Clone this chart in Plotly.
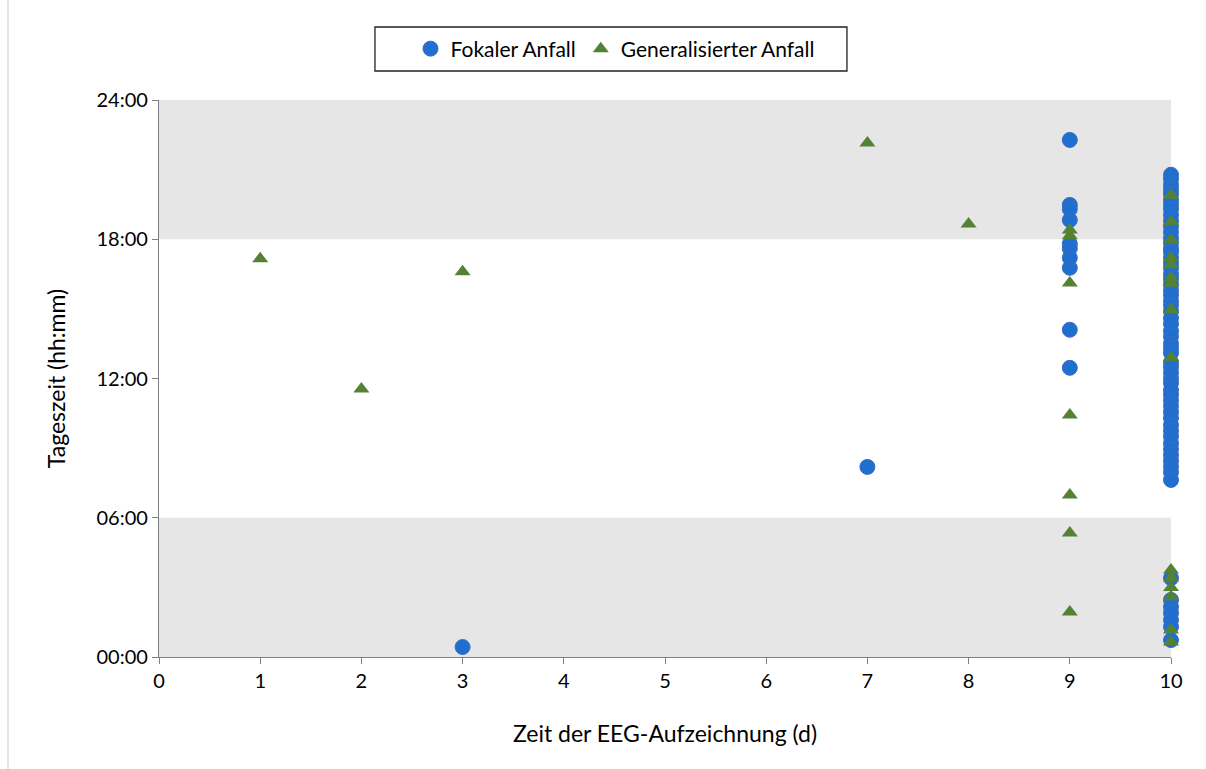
import plotly.graph_objects as go

# Focal seizures (Fokaler Anfall): day, time of day in hours
focal_x = [3, 7] + [9] * 10 + [10] * 55 + [10] * 7
focal_y = [0.43, 8.19,
           22.28, 19.48, 19.3, 18.83, 17.8, 17.6, 17.2, 16.77, 14.1, 12.46,
           20.78, 20.6, 20.35, 20.15, 19.95, 19.7, 19.5, 19.3, 19.05, 18.8,
           18.55, 18.3, 18.05, 17.85, 17.6, 17.45, 17.2, 16.95, 16.75, 16.5,
           16.3, 16.05, 15.8, 15.6, 15.35, 15.15, 14.9, 14.6, 14.35, 14.05,
           13.8, 13.5, 13.3, 13.1, 12.7, 12.5, 12.25, 12.0, 11.8, 11.5,
           11.3, 11.05, 10.8, 10.55, 10.3, 10.0, 9.75, 9.5, 9.2, 8.95,
           8.7, 8.45, 8.2, 7.95, 7.63,
           3.4, 2.46, 2.16, 1.9, 1.6, 1.3, 0.73]

# Generalized seizures (Generalisierter Anfall)
gen_x = [1, 2, 3, 7, 8] + [9] * 7 + [10] * 9 + [10] * 6
gen_y = [17.16, 11.55, 16.6, 22.15, 18.66,
         18.4, 18.15, 16.12, 10.43, 6.98, 5.34, 1.94,
         19.9, 18.75, 17.97, 17.2, 16.9, 16.33, 16.1, 14.96, 12.9,
         3.75, 3.4, 3.0, 2.6, 1.16, 0.65]

x_ticks = list(range(0, 11))
y_ticks = [0, 6, 12, 18, 24]
y_labels = ["00:00", "06:00", "12:00", "18:00", "24:00"]

FONT = "Lato, 'Open Sans', sans-serif"

fig = go.Figure()
fig.add_trace(go.Scatter(
    x=focal_x, y=focal_y, mode="markers", name="Fokaler Anfall",
    cliponaxis=False,
    marker=dict(symbol="circle", size=15, color="#1f6fd0",
                line=dict(color="#3d6cbf", width=1)),
))
fig.add_trace(go.Scatter(
    x=gen_x, y=gen_y, mode="markers", name="Generalisierter Anfall",
    cliponaxis=False,
    marker=dict(symbol="triangle-up", size=14, color="#548235",
                line=dict(width=0)),
))

# night bands
for y0, y1 in [(18, 24), (0, 6)]:
    fig.add_shape(type="rect", xref="x", yref="y", x0=0, x1=10, y0=y0, y1=y1,
                  fillcolor="#e6e6e6", line=dict(width=0), layer="below")

# faint frame line on the left edge
fig.add_shape(type="line", xref="paper", yref="paper", x0=-0.1492, x1=-0.1492,
              y0=-0.3, y1=1.3, line=dict(color="#dcdcdc", width=1.5))

# legend frame
fig.add_shape(type="rect", xref="paper", yref="paper", x0=0.2134, x1=0.6798,
              y0=1.0521, y1=1.1311, line=dict(color="#222222", width=1.3),
              fillcolor="rgba(0,0,0,0)")

fig.update_layout(
    width=1206, height=769,
    margin=dict(l=159, r=35, t=100, b=112, autoexpand=False),
    plot_bgcolor="white", paper_bgcolor="white",
    font=dict(family=FONT, size=20, color="#000000"),
    showlegend=True,
    legend=dict(orientation="h", x=0.4506, xanchor="center", y=1.0916, yanchor="middle",
                borderwidth=0, bgcolor="rgba(0,0,0,0)",
                font=dict(family=FONT, size=21, color="#000000"),
                itemwidth=30, tracegroupgap=0),
    xaxis=dict(range=[0, 10], tickvals=x_ticks, showgrid=False, zeroline=False,
               showline=True, linecolor="#7f7f7f", linewidth=1.3,
               ticks="outside", ticklen=6, tickcolor="#7f7f7f", tickwidth=1.3,
               tickfont=dict(size=20),
               title=dict(text="Zeit der EEG-Aufzeichnung (d)", standoff=34,
                          font=dict(size=23))),
    yaxis=dict(range=[0, 24], tickvals=y_ticks, ticktext=y_labels, showgrid=False,
               zeroline=False, showline=True, linecolor="#7f7f7f", linewidth=1.3,
               ticks="outside", ticklen=6, tickcolor="#7f7f7f", tickwidth=1.3,
               tickfont=dict(size=20),
               title=dict(text="Tageszeit (hh:mm)", standoff=24,
                          font=dict(size=23))),
)

fig.write_html("out.html")
